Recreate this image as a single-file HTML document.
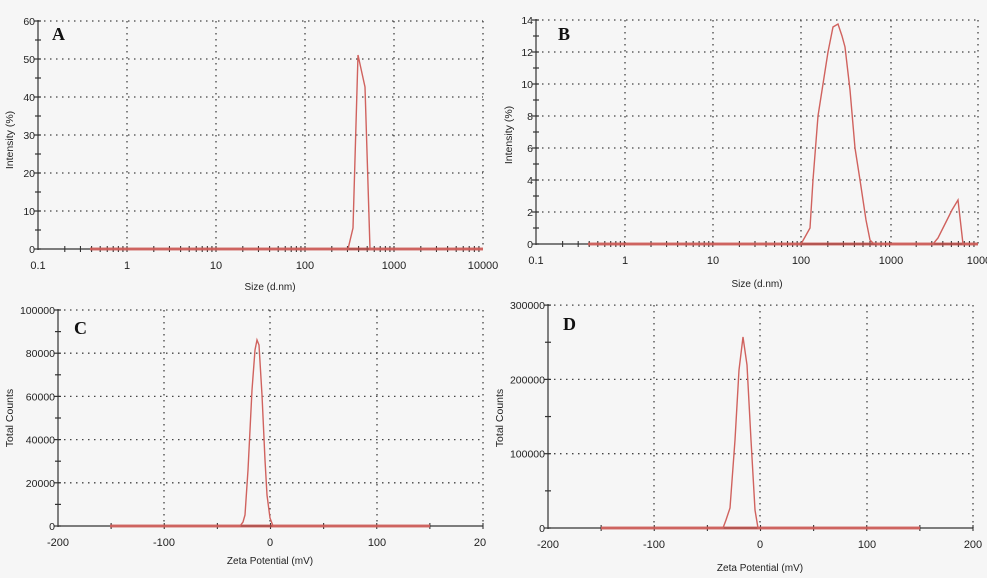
<!DOCTYPE html>
<html><head><meta charset="utf-8"><style>
html,body{margin:0;padding:0;background:#f6f6f6;}
svg{display:block;font-family:"Liberation Sans",Arial,sans-serif;}
</style></head><body>
<svg id="s" width="987" height="578" viewBox="0 0 987 578" xmlns="http://www.w3.org/2000/svg">
<rect width="987" height="578" fill="#f6f6f6"/>
</svg>
<script>
var s=document.getElementById('s'),NS='http://www.w3.org/2000/svg';
function el(t,a,txt){var e=document.createElementNS(NS,t);for(var k in a)e.setAttribute(k,a[k]);if(txt!=null)e.textContent=txt;s.appendChild(e);return e;}
function line(x1,y1,x2,y2,st,w,da){var a={x1:x1,y1:y1,x2:x2,y2:y2,stroke:st,'stroke-width':w||1};if(da)a['stroke-dasharray']=da;el('line',a);}
function txt(x,y,t,o){o=o||{};var a={x:x,y:y,'font-size':o.fs||11,fill:o.fill||'#222','text-anchor':o.anchor||'middle'};if(o.tr)a.transform=o.tr;if(o.ff)a['font-family']=o.ff;if(o.fw)a['font-weight']=o.fw;el('text',a,t);}
var red='#d0625e';
function panel(p){
 var L=p.L,R=p.R,T=p.T,B=p.B;
 p.ygrid.forEach(function(y){line(L,y,R,y,'#444',1.3,'1.5 4.5');});
 p.xgrid.forEach(function(x){line(x,T,x,B,'#444',1.3,'1.5 4.5');});
 line(R,T,R,B,'#444',1.3,'1.5 4.5');
 line(L,T-1,L,B+1,'#333',1.2);
 line(L,B,R,B,'#333',1.2);
 p.yticks.forEach(function(t){line(L-4,t[0],L+3,t[0],'#333',1.2);if(t[1]!=null)txt(L-3,t[0]+4,t[1],{anchor:'end',fs:10.5});});
 p.yminor.forEach(function(y){line(L-3,y,L+3,y,'#333',1.2);});
 p.xminor.forEach(function(x){line(x,B-3,x,B+3,'#333',1.1);});
 p.xlabels.forEach(function(t){txt(t[0],B+20,t[1],{fs:11});});
 el('rect',{x:p.bl[0],y:B-1.5,width:p.bl[1]-p.bl[0],height:3,fill:'#c84a46',opacity:0.75});
 el('polyline',{points:p.pts,fill:'none',stroke:red,'stroke-width':1.4});
 txt(p.xl[0],p.xl[1],p.xlab,{fs:10});
 txt(0,0,p.ylab,{fs:10.5,tr:'translate('+p.yl[0]+','+p.yl[1]+') rotate(-90)'});
 txt(p.lab[0],p.lab[1],p.lab[2],{fs:18,ff:'"Liberation Serif",serif',fw:'bold',anchor:'start',fill:'#111'});
}
function logx(x0,dec){return function(v){return x0+Math.log10(v/0.1)*dec;};}
function minorLog(f,from,to){var r=[];for(var d=0.1;d<10000;d*=10)for(var m=1;m<10;m++){var v=d*m;if(v>=from&&v<=to)r.push(f(v));}return r;}
var fa=logx(38,89);
(function(){var L=38,B=249,T=21;var yt=[],ym=[],yg=[];for(var i=0;i<=6;i++){var y=B-i*38;yt.push([y,String(i*10)]);if(i>0)yg.push(y);if(i<6)ym.push(y-19);}
panel({L:L,R:483,T:T,B:B,ygrid:yg,xgrid:[127,216,305,394],yticks:yt,yminor:ym,
xminor:minorLog(fa,0.2,10000),xlabels:[[38,'0.1'],[127,'1'],[216,'10'],[305,'100'],[394,'1000'],[483,'10000']],
bl:[90,483],pts:'90,249 348,249 353,228 358,55 365,87 370,249 483,249',xl:[270,290],xlab:'Size (d.nm)',ylab:'Intensity (%)',yl:[13,140],lab:[52,40,'A']});})();
var fb=logx(536,88.4);
(function(){var L=536,B=244,T=20;var yt=[],ym=[],yg=[];for(var i=0;i<=7;i++){var y=B-i*32;yt.push([y,String(i*2)]);if(i>0)yg.push(y);if(i<7){ym.push(y-16);}}
panel({L:L,R:978,T:T,B:B,ygrid:yg,xgrid:[625,713,801,891],yticks:yt,yminor:ym,
xminor:minorLog(fb,0.2,10000),xlabels:[[536,'0.1'],[625,'1'],[713,'10'],[801,'100'],[891,'1000'],[982,'10000']],
bl:[588,978],pts:'588,244 801,244 805,237 810,228 813,180 818,116 823,84 828,52 833,27 838,24 842,36 845,47 850,90 855,148 860,180 866,220 870,240 873,243 877,244 933,244 938,238 945,224 952,210 958,200 963,244 978,244',
xl:[757,287],xlab:'Size (d.nm)',ylab:'Intensity (%)',yl:[512,135],lab:[558,40,'B']});})();
(function(){var L=58,B=526,T=310;var yt=[],ym=[],yg=[];for(var i=0;i<=5;i++){var y=B-i*43.2;yt.push([y,String(i*20000)]);if(i>0)yg.push(y);if(i<5)ym.push(y-21.6);}
var xs=[];for(var v=-150;v<=200;v+=50)xs.push(58+(v+200)*1.0625);
panel({L:L,R:483,T:T,B:B,ygrid:yg,xgrid:[164,270,377],yticks:yt,yminor:ym,xminor:xs,
xlabels:[[58,'-200'],[164,'-100'],[270,'0'],[377,'100'],[480,'20']],bl:[110,430],
pts:'110,526 240,526 243,522 245,515 248,470 252,390 255,350 257,340 259,345 262,395 265,460 267,495 270,518 273,526 430,526',
xl:[270,564],xlab:'Zeta Potential (mV)',ylab:'Total Counts',yl:[13,418],lab:[74,334,'C']});})();
(function(){var L=548,B=528,T=305;var yt=[],ym=[],yg=[];for(var i=0;i<=3;i++){var y=B-i*74.3;yt.push([y,String(i*100000)]);if(i>0)yg.push(y);if(i<3)ym.push(y-37.15);}
var xs=[];for(var v=-150;v<=200;v+=50)xs.push(548+(v+200)*1.0625);
panel({L:L,R:973,T:T,B:B,ygrid:yg,xgrid:[654,760,867],yticks:yt,yminor:ym,xminor:xs,
xlabels:[[548,'-200'],[654,'-100'],[760,'0'],[867,'100'],[973,'200']],bl:[601,920],
pts:'601,528 723,528 726,520 730,508 735,440 739,370 743,337 747,365 751,440 755,510 758,528 920,528',
xl:[760,571],xlab:'Zeta Potential (mV)',ylab:'Total Counts',yl:[503,418],lab:[563,330,'D']});})();
</script>
</body></html>
